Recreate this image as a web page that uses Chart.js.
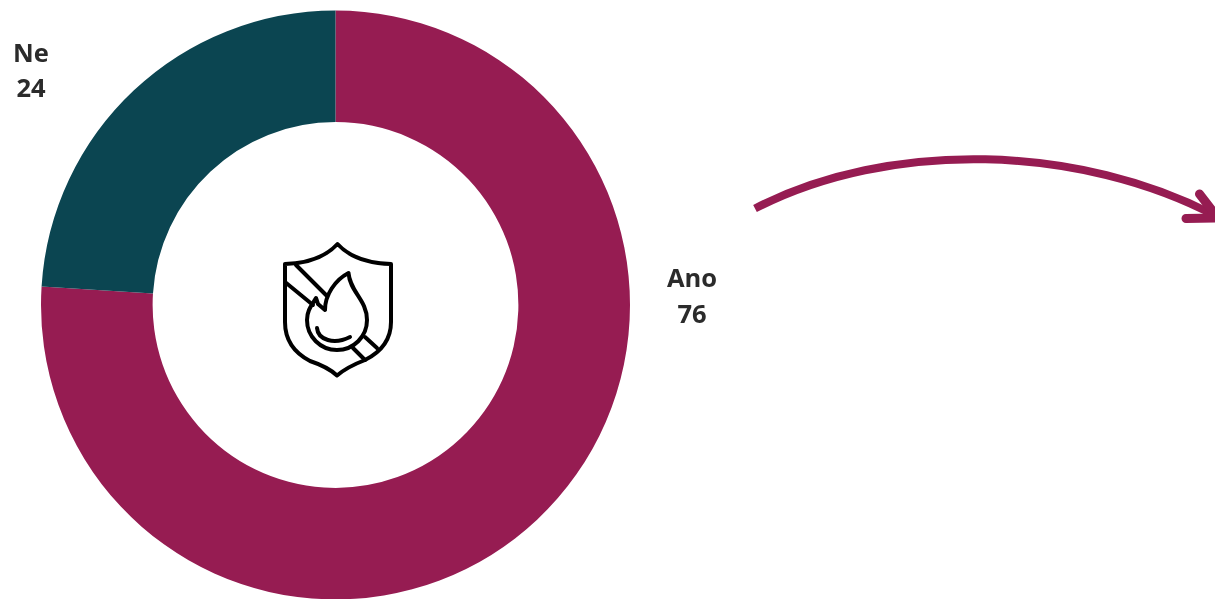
<!DOCTYPE html>
<html>
<head>
<meta charset="utf-8">
<style>
	html, body { margin: 0; padding: 0; background: #fff; overflow: hidden; }
	#wrap { position: relative; width: 1215px; height: 599px; overflow: hidden; }
	#box { position: absolute; left: 0; top: 0; width: 1215px; height: 600px; }
	#deco { position: absolute; left: 0; top: 0; }
</style>
<script src="https://cdn.jsdelivr.net/npm/chart.js@4/dist/chart.umd.min.js"></script>
</head>
<body>
<div id="wrap">
	<div id="box"><canvas id="chart"></canvas></div>
	<svg id="deco" width="1215" height="599" fill="none">
		<!-- arrow -->
		<g stroke="#961c52" stroke-width="8" stroke-linecap="round" stroke-linejoin="round">
			<path d="M755 208.500 C890 139 1080 144 1218 217" stroke-linecap="butt"/>
			<path d="M1199.500 194 L1218 218 L1186 218.500" stroke-width="9"/>
		</g>
		<!-- shield icon -->
		<g stroke="#000" stroke-width="4" stroke-linejoin="round" stroke-linecap="round">
			<path d="M337.500 244 Q320 263 285 264 L285 322 Q285 348 310 361 Q328 367 337 375.500 Q347 367 365 360 Q391 347 391 322 L391 264 Q355 263 337.500 244Z"/>
			<path d="M348.500 273 C350 292 367 300 367 320 A30 30 0 0 1 307 320 C307 310 312 305 316 298 L318 304 L325 310 C325 295 335 280 348.500 273Z"/>
			<path d="M317 328 C318 340 334 345 350 337"/>
			<path d="M296 265 L327 296 M285 282 L313 305"/>
			<path d="M365 337 L377 348 M353 348 L365 360"/>
		</g>
	</svg>
</div>
<script>
const categories = ['Ano', 'Ne'];
const values = [76, 24];
const sliceColors = ['#961c52', '#0b4551'];
const labelSpots = [{ x: 692, y: 280 }, { x: 31, y: 54.5 }];

// Slice labels sit at fixed spots outside the ring
const sliceLabels = {
	id: 'sliceLabels',
	afterDraw(chart) {
		const c = chart.ctx;
		c.save();
		c.font = 'bold 25.500px "Open Sans"';
		c.fillStyle = '#2b2b2b';
		c.textAlign = 'center';
		c.textBaseline = 'middle';
		categories.forEach((name, i) => {
			c.fillText(name, labelSpots[i].x, labelSpots[i].y);
			c.fillText(String(values[i]), labelSpots[i].x, labelSpots[i].y + 35.5);
		});
		c.restore();
	},
};

new Chart(document.getElementById('chart').getContext('2d'), {
	type: 'doughnut',
	data: {
		labels: categories,
		datasets: [{
			data: values,
			backgroundColor: sliceColors,
			borderWidth: 0,
		}],
	},
	options: {
		responsive: true,
		maintainAspectRatio: false,
		animation: false,
		cutout: '62.100%',
		layout: { padding: { left: 41, right: 585, top: 10, bottom: 0 } },
		plugins: {
			legend: { display: false },
			tooltip: { enabled: false },
		},
	},
	plugins: [sliceLabels],
});
</script>
</body>
</html>
